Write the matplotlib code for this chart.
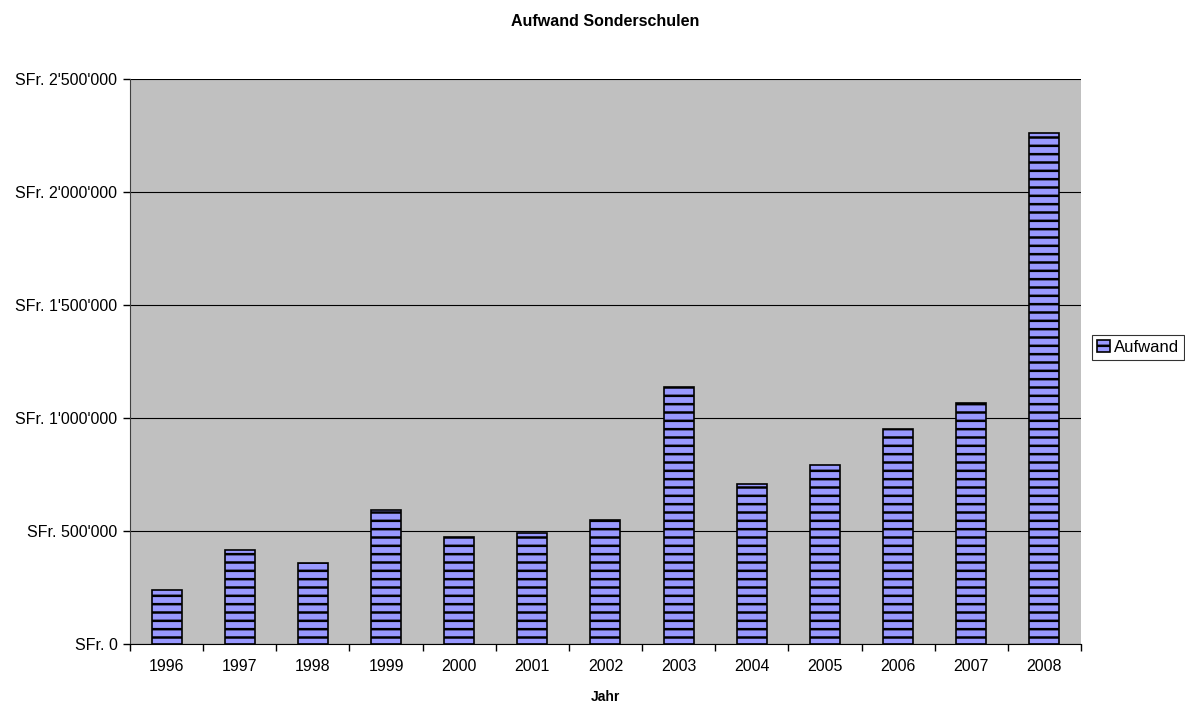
import matplotlib
matplotlib.use("Agg")
import matplotlib.pyplot as plt
from matplotlib.ticker import FuncFormatter, FixedLocator
import numpy as np

years = ['1996', '1997', '1998', '1999', '2000', '2001', '2002',
         '2003', '2004', '2005', '2006', '2007', '2008']
aufwand = [241000, 415000, 357000, 594000, 473000, 490000, 548000,
           1137000, 708000, 792000, 951000, 1067000, 2261000]

plt.rcParams['font.family'] = ['Liberation Sans', 'DejaVu Sans']
plt.rcParams['hatch.linewidth'] = 1.8
plt.rcParams['hatch.color'] = '#1a1a33'

fig = plt.figure(figsize=(11.85, 7.03), dpi=100)
ax = fig.add_axes([0.1097, 0.0839, 0.8025, 0.8037])
ax.set_facecolor('#c0c0c0')

x = np.arange(len(years))
bars = ax.bar(x, aufwand, width=0.41, color='#9999ff', edgecolor='black',
              linewidth=1.2, hatch='--', label='Aufwand', zorder=3)

ax.set_xlim(-0.5, len(years) - 0.5)
ax.set_ylim(0, 2500000)
ax.set_yticks(np.arange(0, 2500001, 500000))


def sfr(v, pos):
    s = '{:,.0f}'.format(v).replace(',', "'")
    return 'SFr. ' + s


ax.yaxis.set_major_formatter(FuncFormatter(sfr))
ax.grid(axis='y', color='black', linewidth=0.8, zorder=1)

ax.set_xticks(x)
ax.set_xticklabels(years)
ax.xaxis.set_minor_locator(FixedLocator(np.arange(-0.5, len(years), 1.0)))
ax.tick_params(axis='x', which='major', length=0, pad=11, labelsize=11.5)
ax.tick_params(axis='x', which='minor', length=5, width=1, direction='out')
ax.tick_params(axis='y', length=5, width=1, direction='out', labelsize=11.5, pad=4)

for side in ['top', 'right']:
    ax.spines[side].set_visible(False)
ax.spines['left'].set_color('#404040')
ax.spines['bottom'].set_color('black')

ax.set_title('Aufwand Sonderschulen', fontsize=11.5, fontweight='bold', pad=38)
ax.set_xlabel('Jahr', fontsize=10, fontweight='bold', labelpad=11)

leg = ax.legend(loc='center left', bbox_to_anchor=(1.012, 0.525), fontsize=12,
                frameon=True, fancybox=False, edgecolor='black',
                handlelength=0.75, handleheight=0.75, handletextpad=0.25,
                borderpad=0.3, borderaxespad=0)
leg.get_frame().set_linewidth(0.8)

fig.savefig('out.png', dpi=100)
